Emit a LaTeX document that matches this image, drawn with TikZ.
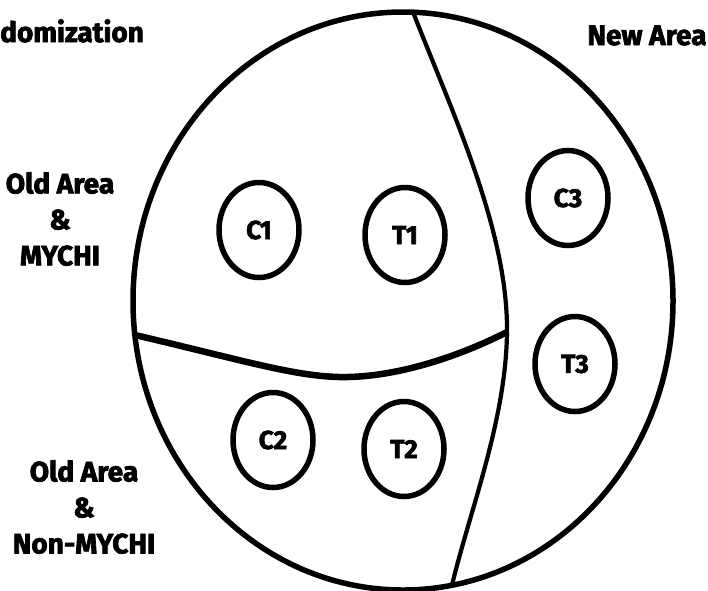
\documentclass[tikz,border=0pt]{standalone}
\usepackage{fontspec}
\setmainfont{Fira Sans}[BoldFeatures={FakeBold=2.5}]
\usetikzlibrary{shapes.geometric}

\tikzset{arm/.style={draw,ellipse,line width=5.5pt,minimum width=80pt,minimum height=95pt,inner sep=0pt,font=\fontsize{26}{30}\selectfont\bfseries},
area label/.style={align=center,inner sep=0pt,font=\fontsize{28}{36}\selectfont\bfseries},
plate/.style={line width=5.5pt},
divider/.style={line width=4.2pt},
band/.style={line width=6.5pt}}

\begin{document}
\begin{tikzpicture}[x=1pt,y=-1pt]
\useasboundingbox (0,0) rectangle (708,590);

%% Coordinates of the divider ends.
\coordinate (top) at (413,12);
\coordinate (mid) at (507,332);
\coordinate (bot) at (452,585);
\coordinate (west) at (135,335);
\coordinate (dip) at (348,377);

%% outer circle
\draw [plate] (403,301) ellipse [x radius=270,y radius=289];

%% dividers
\draw [divider] (top) .. controls (452,112) and (508,230) .. (mid) .. controls (506,420) and (470,510) .. (bot);
\draw [band] (west) .. controls (250,362) and (300,378) .. (dip) .. controls (400,376) and (460,356) .. (mid);

%% groups
\node [arm] (c1) at (259,230) {C1};
\node [arm] (t1) at (405,235) {T1};
\node [arm] (c3) at (568,198) {C3};
\node [arm] (t3) at (575,364) {T3};
\node [arm] (c2) at (273,440) {C2};
\node [arm] (t2) at (404,449) {T2};

%% area labels
\node [area label,anchor=base west] (title) at (0,42) {domization};
\node [area label,anchor=base] (new) at (647,45) {New Area};
\node [area label] (old) at (60,219) {Old Area\\\&\\MYCHI};
\node [area label] (oldnon) at (84,507) {Old Area\\\&\\Non-MYCHI};

\end{tikzpicture}
\end{document}
